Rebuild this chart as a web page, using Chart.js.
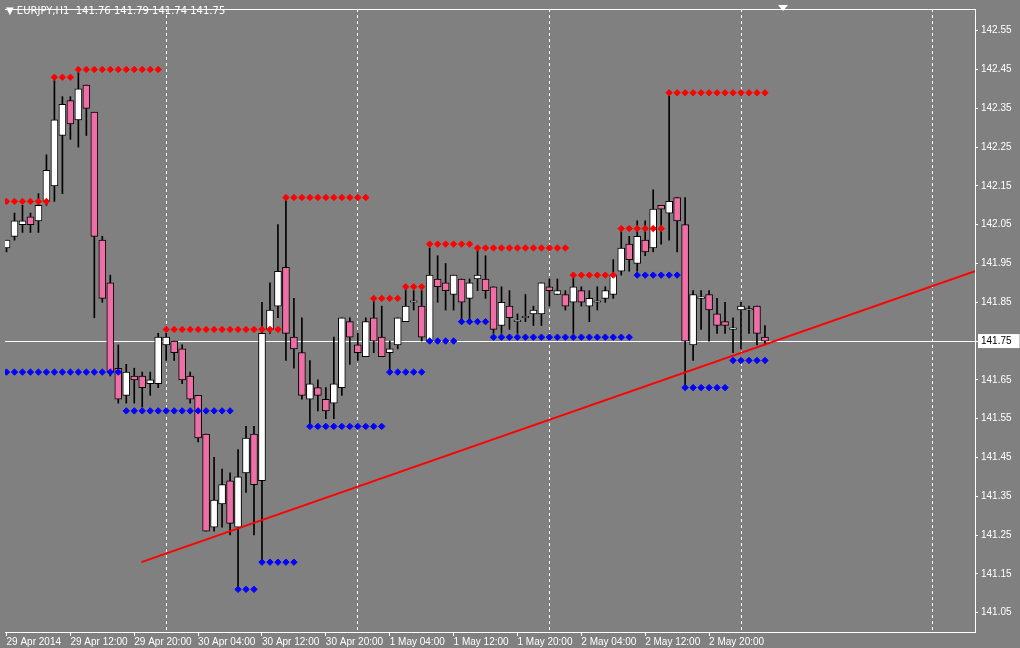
<!DOCTYPE html>
<html><head><meta charset="utf-8">
<script src="https://cdn.jsdelivr.net/npm/chart.js@4"></script>
<style>
html,body{margin:0;padding:0;background:#808080;}
#wrap{position:relative;width:1020px;height:648px;}
#title{position:absolute;left:6px;top:5px;color:#fff;font:10px "DejaVu Sans",sans-serif;white-space:pre;}
#tri{position:absolute;left:778px;top:5px;width:0;height:0;border-left:5px solid transparent;border-right:5px solid transparent;border-top:6px solid #fff;}
</style></head><body>
<div id="wrap"><canvas id="c" width="1020" height="648"></canvas>
<div id="title">▼ EURJPY,H1  141.76 141.79 141.74 141.75</div><div id="tri"></div></div>
<script>
const opens  = [141.99,142.02,142.05,142.07,142.06,142.11,142.15,142.28,142.37,142.32,142.41,142.34,142.01,141.90,141.68,141.61,141.66,141.66,141.64,141.64,141.74,141.75,141.73,141.66,141.61,141.51,141.27,141.33,141.39,141.27,141.41,141.51,141.39,141.78,141.84,141.94,141.76,141.72,141.60,141.63,141.60,141.59,141.63,141.80,141.74,141.71,141.81,141.76,141.72,141.74,141.80,141.85,141.84,141.75,141.91,141.90,141.87,141.91,141.86,141.91,141.91,141.89,141.79,141.84,141.80,141.81,141.82,141.82,141.89,141.87,141.87,141.85,141.88,141.84,141.85,141.86,141.87,141.93,142.00,141.95,142.01,141.99,142.10,142.08,142.12,142.05,141.74,141.86,141.87,141.82,141.80,141.78,141.83,141.83,141.84,141.76];
const highs  = [142.01,142.08,142.10,142.08,142.13,142.23,142.43,142.38,142.38,142.45,142.41,142.34,142.02,141.92,141.74,141.69,141.68,141.67,141.67,141.77,141.77,141.75,141.74,141.67,141.61,141.51,141.45,141.42,141.41,141.47,141.53,141.53,141.85,141.90,142.05,142.12,141.86,141.81,141.70,141.65,141.63,141.76,141.81,141.81,141.77,141.81,141.86,141.84,141.75,141.81,141.89,141.88,141.88,141.99,141.97,141.95,141.92,141.91,141.91,141.99,141.97,141.89,141.89,141.88,141.82,141.87,141.84,141.90,141.91,141.91,141.88,141.92,141.89,141.88,141.89,141.89,141.96,142.04,142.02,142.06,142.06,142.14,142.10,142.39,142.12,142.12,141.88,141.88,141.88,141.86,141.85,141.81,141.85,141.84,141.84,141.79];
const lows   = [141.98,142.01,142.03,142.03,142.03,142.10,142.11,142.13,142.27,142.25,142.28,141.81,141.85,141.66,141.59,141.59,141.59,141.58,141.61,141.63,141.70,141.70,141.64,141.59,141.49,141.26,141.26,141.27,141.25,141.11,141.36,141.25,141.18,141.77,141.81,141.70,141.68,141.60,141.53,141.57,141.55,141.55,141.61,141.69,141.70,141.71,141.72,141.71,141.67,141.73,141.80,141.83,141.75,141.75,141.85,141.83,141.83,141.80,141.80,141.88,141.86,141.77,141.77,141.78,141.77,141.80,141.79,141.79,141.84,141.87,141.83,141.77,141.84,141.80,141.83,141.85,141.86,141.92,141.93,141.93,141.97,141.98,142.00,142.01,141.98,141.63,141.70,141.78,141.75,141.77,141.77,141.72,141.73,141.77,141.74,141.74];
const closes = [142.01,142.06,142.06,142.05,142.10,142.19,142.32,142.36,142.31,142.40,142.35,142.02,141.86,141.67,141.60,141.67,141.65,141.63,141.65,141.76,141.76,141.72,141.65,141.60,141.50,141.26,141.34,141.38,141.28,141.40,141.50,141.38,141.77,141.83,141.93,141.77,141.73,141.61,141.64,141.61,141.57,141.64,141.81,141.76,141.72,141.80,141.75,141.71,141.73,141.81,141.84,141.85,141.76,141.92,141.89,141.88,141.92,141.85,141.90,141.92,141.88,141.78,141.85,141.81,141.80,141.81,141.83,141.90,141.88,141.88,141.84,141.89,141.85,141.86,141.85,141.88,141.92,141.99,141.96,142.02,141.98,142.09,142.09,142.11,142.06,141.75,141.87,141.86,141.83,141.79,141.79,141.78,141.84,141.83,141.77,141.75];
// resistance (red) and support (blue) levels: [firstBar, lastBar, price]
const redLevels  = [[0,5,142.11],[6,8,142.43],[9,19,142.45],[20,34,141.78],[35,45,142.12],[46,49,141.86],[50,52,141.89],[53,58,142.00],[59,70,141.99],[71,76,141.92],[77,82,142.04],[83,95,142.39]];
const blueLevels = [[0,14,141.67],[15,28,141.57],[29,31,141.11],[32,36,141.18],[38,47,141.53],[48,52,141.67],[53,56,141.75],[57,60,141.80],[61,78,141.76],[79,84,141.92],[85,90,141.63],[91,95,141.70]];
const trendLine = [{x:16.9,y:141.18},{x:121.31,y:141.93}];
const timeLabels = {0:'29 Apr 2014',8:'29 Apr 12:00',16:'29 Apr 20:00',24:'30 Apr 04:00',32:'30 Apr 12:00',40:'30 Apr 20:00',48:'1 May 04:00',56:'1 May 12:00',64:'1 May 20:00',72:'2 May 04:00',80:'2 May 12:00',88:'2 May 20:00'};
const midnightBars = [20,44,68,92,116];
const priceTicks = [142.55,142.45,142.35,142.25,142.15,142.05,141.95,141.85,141.75,141.65,141.55,141.45,141.35,141.25,141.15,141.05];
const lastPrice = 141.75;

const PINK='#f06ea6';
const wicks = opens.map((o,i)=>({x:i,y:[lows[i],highs[i]]}));
const bodies = opens.map((o,i)=>{let a=o,b=closes[i]; if(Math.abs(a-b)<0.004){b=a+0.004;} return {x:i,y:[a,b]};});
const bodyCol = opens.map((o,i)=>closes[i]>=o?'#ffffff':PINK);
function dots(levels){const d=[];levels.forEach(l=>{for(let i=l[0];i<=l[1];i++)d.push({x:i,y:l[2]});});return d;}
const xTickVals = Object.keys(timeLabels).map(Number).concat(midnightBars).sort((a,b)=>a-b);

new Chart(document.getElementById('c'),{
  data:{datasets:[
    {type:'line',data:trendLine,borderColor:'#ff0000',borderWidth:2,pointRadius:0,order:1},
    {type:'scatter',data:dots(redLevels),backgroundColor:'#ff0000',borderColor:'#ff0000',pointStyle:'rectRot',pointRadius:3.2,order:2},
    {type:'scatter',data:dots(blueLevels),backgroundColor:'#0000ff',borderColor:'#0000ff',pointStyle:'rectRot',pointRadius:3.2,order:2},
    {type:'bar',data:bodies,backgroundColor:bodyCol,borderColor:'#000',borderWidth:1,borderSkipped:false,barThickness:7,grouped:false,order:3},
    {type:'bar',data:wicks,backgroundColor:'#000',borderWidth:0,barThickness:1,grouped:false,order:4}
  ]},
  options:{
    responsive:false,animation:false,
    layout:{padding:{left:3,top:0,right:0,bottom:0}},
    plugins:{legend:{display:false},tooltip:{enabled:false}},
    scales:{
      x:{type:'linear',offset:false,min:-0.19,max:121.31,
        afterBuildTicks:s=>{s.ticks=xTickVals.map(v=>({value:v}));},
        afterFit:s=>{s.height=16;},
        border:{color:'#ffffff',width:1,dash:[3,3]},
        grid:{offset:false,color:c=>midnightBars.includes(c.tick&&c.tick.value)?'#ffffff':'rgba(0,0,0,0)',
              tickColor:c=>(c.tick&&timeLabels[c.tick.value]!==undefined)?'#ffffff':'rgba(0,0,0,0)',
              tickBorderDash:[],tickLength:4,lineWidth:1,drawOnChartArea:true},
        ticks:{autoSkip:false,maxRotation:0,align:'start',color:'#ffffff',padding:0,font:{family:'Liberation Sans',size:10},
          callback:v=>timeLabels[v]||''}
      },
      y:{position:'right',min:141.0,max:142.606,
        afterBuildTicks:s=>{s.ticks=priceTicks.map(v=>({value:v}));},
        afterFit:s=>{s.width=45;},
        border:{color:'#ffffff',width:1},
        grid:{color:c=>(c.tick&&Math.abs(c.tick.value-lastPrice)<1e-6)?'#ffffff':'rgba(0,0,0,0)',tickColor:'#ffffff',tickLength:3},
        ticks:{color:c=>(c.tick&&Math.abs(c.tick.value-lastPrice)<1e-6)?'#000':'#ffffff',padding:3,font:{family:'Liberation Sans',size:10},
          showLabelBackdrop:c=>c.tick&&Math.abs(c.tick.value-lastPrice)<1e-6,backdropColor:'#ffffff',backdropPadding:{top:1,bottom:1,left:3,right:8},
          callback:v=>v.toFixed(2)}
      }
    }
  },
  plugins:[{id:'top',afterDraw(ch){const a=ch.chartArea,x=ch.ctx;x.save();x.strokeStyle='#fff';x.lineWidth=1;x.setLineDash([]);x.beginPath();x.moveTo(a.left,a.top+0.5);x.lineTo(a.right,a.top+0.5);x.moveTo(a.left,a.bottom+0.5);x.lineTo(a.right,a.bottom+0.5);x.stroke();x.restore();}}]
});
</script></body></html>
